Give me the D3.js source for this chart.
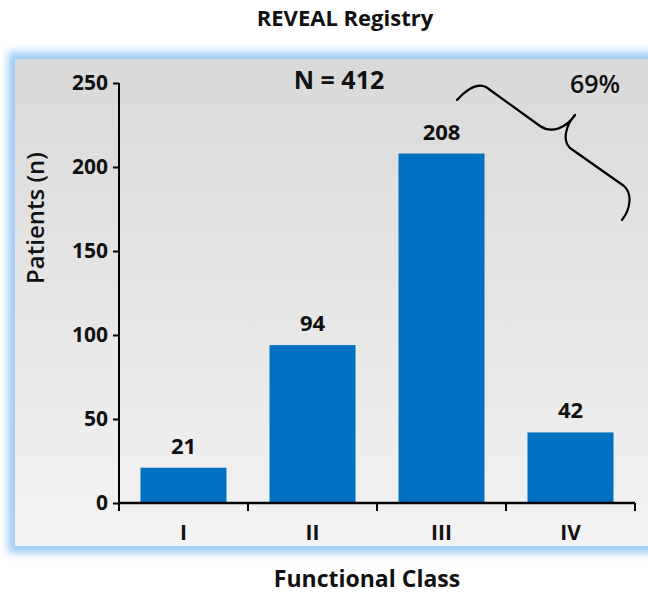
<!DOCTYPE html>
<html>
<head>
<meta charset="utf-8">
<script src="https://cdn.jsdelivr.net/npm/d3@7"></script>
<style>
  html, body { margin: 0; padding: 0; background: #ffffff; }
  svg { display: block; font-family: "Open Sans", Lato, sans-serif; }
</style>
</head>
<body>
<svg id="chart" width="648" height="595"></svg>
<script>
// Functional class breakdown of the REVEAL Registry cohort
const categories = ["I", "II", "III", "IV"];
const patients = [21, 94, 208, 42];
const yTicks = [0, 50, 100, 150, 200, 250];
const totalLabel = "N = 412";
const shareLabel = "69%";

const FONT = "'Open Sans', Lato, sans-serif";
const svg = d3.select("#chart");

// panel frame with soft blue glow
const defs = svg.append("defs");
const glow = defs.append("filter").attr("id", "glow")
  .attr("x", "-10%").attr("y", "-10%").attr("width", "120%").attr("height", "120%");
glow.append("feGaussianBlur").attr("stdDeviation", 4.5);

const grad = defs.append("linearGradient").attr("id", "panelFill")
  .attr("x1", 0).attr("y1", 0).attr("x2", 0).attr("y2", 1);
grad.append("stop").attr("offset", "0%").attr("stop-color", "#d9d9d9");
grad.append("stop").attr("offset", "100%").attr("stop-color", "#f3f3f3");

const panel = { x: 15, y: 59, w: 660, h: 487 };
svg.append("rect")
  .attr("x", panel.x - 7).attr("y", panel.y - 7)
  .attr("width", panel.w + 14).attr("height", panel.h + 14)
  .attr("fill", "#9ccbf8").attr("filter", "url(#glow)");
svg.append("rect")
  .attr("x", panel.x).attr("y", panel.y)
  .attr("width", panel.w).attr("height", panel.h)
  .attr("fill", "url(#panelFill)");

// scales
const x = d3.scaleBand().domain(categories).range([119, 635])
  .paddingInner(1 / 3).paddingOuter(1 / 6);
const y = d3.scaleLinear().domain([0, 250]).range([503, 83]);

// bars
svg.append("g").selectAll("rect").data(categories).join("rect")
  .attr("x", d => x(d))
  .attr("y", (d, i) => y(patients[i]))
  .attr("width", x.bandwidth())
  .attr("height", (d, i) => y(0) - y(patients[i]))
  .attr("fill", "#0070c0");

// value labels
svg.append("g").selectAll("text").data(categories).join("text")
  .attr("x", d => x(d) + x.bandwidth() / 2)
  .attr("y", (d, i) => y(patients[i]) - 14)
  .attr("text-anchor", "middle")
  .attr("font-size", 22).attr("font-weight", 700).attr("fill", "#111")
  .text((d, i) => patients[i]);

// y axis
const yAxis = svg.append("g").attr("transform", "translate(119,0)")
  .call(d3.axisLeft(y).tickValues(yTicks).tickSize(6).tickPadding(5));
yAxis.select(".domain").attr("stroke", "#000").attr("stroke-width", 2)
  .attr("d", `M0,${y(250)}V${y(0) + 7}`);
yAxis.selectAll(".tick line").attr("stroke", "#000").attr("stroke-width", 2);
yAxis.selectAll(".tick text")
  .attr("font-family", FONT)
  .attr("font-size", 21).attr("font-weight", 700).attr("fill", "#111");

// x axis: labels centred in bands, ticks at band boundaries
const xAxis = svg.append("g").attr("transform", `translate(0,${y(0)})`)
  .call(d3.axisBottom(x).tickSize(0).tickPadding(22));
xAxis.select(".domain").attr("stroke", "#000").attr("stroke-width", 2.5)
  .attr("d", `M${x.range()[0]},0H${x.range()[1]}`);
xAxis.selectAll(".tick text")
  .attr("font-family", FONT)
  .attr("font-size", 21).attr("font-weight", 700).attr("fill", "#111");
const bounds = d3.range(categories.length + 1).map(i => x.range()[0] + i * x.step());
xAxis.append("g").selectAll("line").data(bounds).join("line")
  .attr("x1", d => d).attr("x2", d => d)
  .attr("y1", 0).attr("y2", 8)
  .attr("stroke", "#000").attr("stroke-width", 2);

// titles
svg.append("text").attr("x", 345).attr("y", 26).attr("text-anchor", "middle")
  .attr("font-size", 22).attr("font-weight", 700).attr("fill", "#111")
  .text("REVEAL Registry");
svg.append("text").attr("x", 367).attr("y", 587).attr("text-anchor", "middle")
  .attr("font-size", 23).attr("font-weight", 700).attr("fill", "#111")
  .text("Functional Class");
svg.append("text")
  .attr("transform", "translate(44,218) rotate(-90)")
  .attr("text-anchor", "middle")
  .attr("font-size", 24).attr("font-weight", 600).attr("fill", "#111")
  .text("Patients (n)");

// annotations
svg.append("text").attr("x", 339).attr("y", 89).attr("text-anchor", "middle")
  .attr("font-size", 25).attr("font-weight", 700).attr("fill", "#111")
  .text(totalLabel);
svg.append("text").attr("x", 595).attr("y", 93).attr("text-anchor", "middle")
  .attr("font-size", 25).attr("font-weight", 600).attr("fill", "#111")
  .text(shareLabel);

// curly brace grouping classes III and IV
svg.append("path")
  .attr("d", "M457,100 C466,90 476,82 486,87 L540,126 C552,134 566,128 575,115 " +
             "C566,125 562,140 570,148 L624,186 C633,194 630,210 622,220")
  .attr("fill", "none").attr("stroke", "#000").attr("stroke-width", 2.2)
  .attr("stroke-linecap", "round").attr("stroke-linejoin", "round");
</script>
</body>
</html>
